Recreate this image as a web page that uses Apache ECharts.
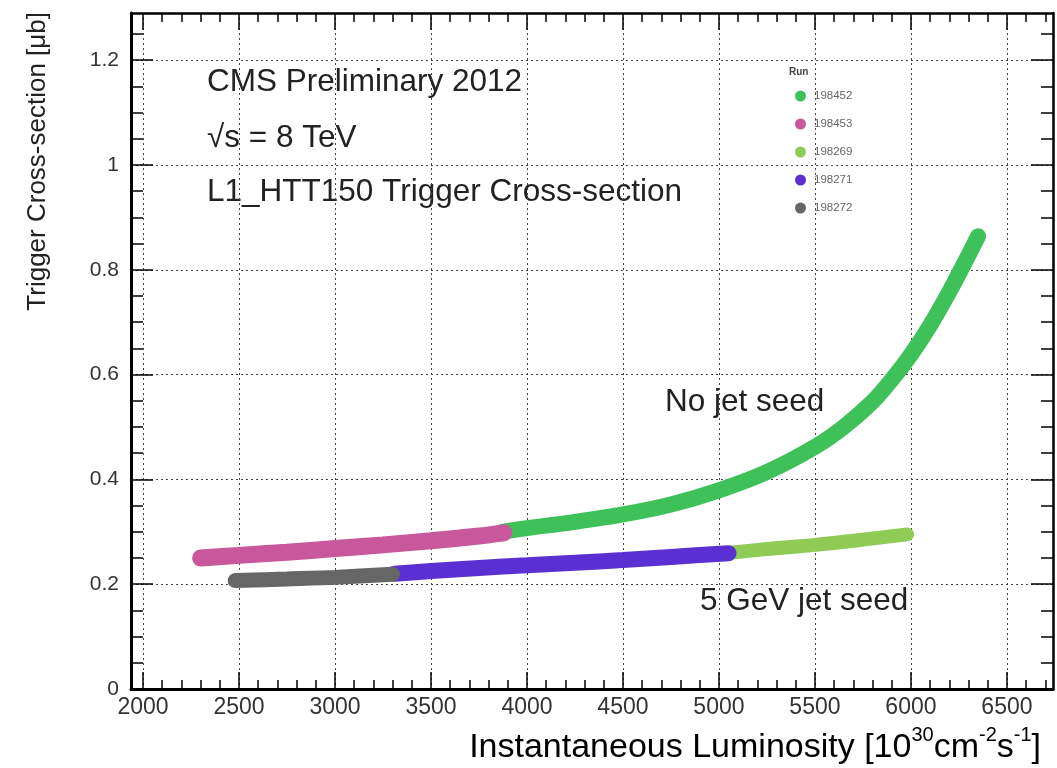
<!DOCTYPE html>
<html>
<head>
<meta charset="utf-8">
<script src="https://cdn.jsdelivr.net/npm/echarts@6/dist/echarts.min.js"></script>
<style>
html,body{margin:0;padding:0;background:#fff;}
#chart{width:1057px;height:768px;}
</style>
</head>
<body>
<div id="chart"></div>
<script>
// ---- data ----
const runs = ['198452', '198453', '198269', '198271', '198272'];
const runColors = ['#3fc15a', '#c8589b', '#8fcb55', '#5a30d2', '#666666'];

// luminosity [1e30 cm^-2 s^-1], cross-section [ub]
const lumi198452 = [3870, 4000, 4250, 4500, 4750, 5000, 5250, 5500, 5650, 5800, 5900, 6000, 6100, 6200, 6300, 6350];
const xsec198452 = [0.300, 0.307, 0.319, 0.333, 0.352, 0.379, 0.414, 0.462, 0.500, 0.548, 0.590, 0.638, 0.694, 0.758, 0.828, 0.864];

const lumi198453 = [2300, 2500, 2750, 3000, 3250, 3500, 3750, 3880];
const xsec198453 = [0.250, 0.255, 0.261, 0.268, 0.275, 0.283, 0.292, 0.298];

const lumi198269 = [5060, 5250, 5500, 5750, 5980];
const xsec198269 = [0.260, 0.267, 0.275, 0.285, 0.295];

const lumi198271 = [3310, 3500, 3750, 4000, 4250, 4500, 4750, 5050];
const xsec198271 = [0.220, 0.225, 0.231, 0.236, 0.241, 0.246, 0.252, 0.259];

const lumi198272 = [2480, 2750, 3000, 3300];
const xsec198272 = [0.207, 0.210, 0.213, 0.219];

// tick labels
const xMajorTicks = [2000, 2500, 3000, 3500, 4000, 4500, 5000, 5500, 6000, 6500];
const yMajorTicks = [0, 0.2, 0.4, 0.6, 0.8, 1, 1.2];
const xMinorTicks = [];
for (let v = 2000; v <= 6700; v += 100) xMinorTicks.push(v);
const yMinorTicks = [];
for (let i = 0; i <= 25; i++) yMinorTicks.push(Math.round(i * 5) / 100);

const lumis = [lumi198452, lumi198453, lumi198269, lumi198271, lumi198272];
const xsecs = [xsec198452, xsec198453, xsec198269, xsec198271, xsec198272];
const widths = [16, 17, 14, 16, 15];

const FONT = "'Liberation Sans', Arial, Helvetica, sans-serif";
const X_MIN = 1937.5, X_MAX = 6740, Y_MIN = 0, Y_MAX = 1.29;

function xAxisDef(position, ticks, len, isMain, lineWidth) {
  return {
    type: 'value', position: position, min: X_MIN, max: X_MAX,
    axisLine: { show: lineWidth > 0, onZero: false, lineStyle: { color: '#000', width: lineWidth } },
    axisTick: { show: true, inside: true, length: len, customValues: ticks, lineStyle: { color: '#000', width: 1.5 } },
    axisLabel: isMain ? { show: true, customValues: ticks, fontFamily: FONT, fontSize: 23, color: '#333', margin: 7,
                          formatter: v => String(v) } : { show: false },
    splitLine: isMain ? { show: true, lineStyle: { color: '#444', width: 1, type: [2, 3] } } : { show: false }
  };
}
function yAxisDef(position, ticks, len, isMain, lineWidth) {
  return {
    type: 'value', position: position, min: Y_MIN, max: Y_MAX,
    axisLine: { show: lineWidth > 0, onZero: false, lineStyle: { color: '#000', width: lineWidth } },
    axisTick: { show: true, inside: true, length: len, customValues: ticks, lineStyle: { color: '#000', width: 1.5 } },
    axisLabel: isMain ? { show: true, customValues: ticks, fontFamily: FONT, fontSize: 21, color: '#333', margin: 12,
                          formatter: v => String(v) } : { show: false },
    splitLine: isMain ? { show: true, lineStyle: { color: '#444', width: 1, type: [2, 3] } } : { show: false }
  };
}

const series = runs.map((r, k) => ({
  name: r,
  type: 'line',
  xAxisIndex: 0, yAxisIndex: 0,
  data: lumis[k].map((x, i) => [x, xsecs[k][i]]),
  smooth: 0.3,
  symbol: 'circle', showSymbol: false, symbolSize: 10,
  itemStyle: { color: runColors[k] },
  lineStyle: { color: runColors[k], width: widths[k], cap: 'round' },
  z: 5
}));

const chart = echarts.init(document.getElementById('chart'), null, { renderer: 'canvas' });
chart.setOption({
  animation: false,
  backgroundColor: '#fff',
  grid: { left: 131, right: 4, top: 13, bottom: 79, containLabel: false },
  xAxis: [
    xAxisDef('bottom', xMajorTicks, 17, true, 3),
    xAxisDef('bottom', xMinorTicks, 9, false, 0),
    xAxisDef('top', xMajorTicks, 17, false, 2.5),
    xAxisDef('top', xMinorTicks, 9, false, 0)
  ],
  yAxis: [
    yAxisDef('left', yMajorTicks, 22, true, 3),
    yAxisDef('left', yMinorTicks, 12, false, 0),
    yAxisDef('right', yMajorTicks, 22, false, 2.5),
    yAxisDef('right', yMinorTicks, 12, false, 0)
  ],
  legend: {
    orient: 'vertical', left: 790, top: 85,
    itemWidth: 11, itemHeight: 11, itemGap: 16, icon: 'circle',
    textStyle: { fontFamily: FONT, fontSize: 11.5, color: '#666', padding: [0, 0, 0, 3] },
    data: runs
  },
  graphic: [
    { type: 'text', left: 789, top: 67, style: { text: 'Run', font: 'bold 10px ' + FONT, fill: '#444' } },
    { type: 'text', x: 207, y: 82, style: { text: 'CMS Preliminary 2012', font: '31.5px ' + FONT, fill: '#222', verticalAlign: 'middle' } },
    { type: 'text', x: 207, y: 138, style: { text: '√s = 8 TeV', font: '31.5px ' + FONT, fill: '#222', verticalAlign: 'middle' } },
    { type: 'text', x: 207, y: 192, style: { text: 'L1_HTT150 Trigger Cross-section', font: '31.5px ' + FONT, fill: '#222', verticalAlign: 'middle' } },
    { type: 'text', x: 665, y: 402, style: { text: 'No jet seed', font: '31.5px ' + FONT, fill: '#222', verticalAlign: 'middle' } },
    { type: 'text', x: 700, y: 601, style: { text: '5 GeV jet seed', font: '31.5px ' + FONT, fill: '#222', verticalAlign: 'middle' } },
    { type: 'text', x: 38, y: 12, rotation: Math.PI / 2,
      style: { text: 'Trigger Cross-section [μb]', font: '26px ' + FONT, fill: '#222', align: 'right', verticalAlign: 'middle' } },
    { type: 'text', x: 1041, y: 745,
      style: {
        text: '{a|Instantaneous Luminosity [10}{s|30}{a|cm}{s|-2}{a|s}{s|-1}{a|]}',
        align: 'right', verticalAlign: 'middle',
        rich: {
          a: { fontFamily: FONT, fontSize: 34, color: '#222', lineHeight: 40, verticalAlign: 'bottom' },
          s: { fontFamily: FONT, fontSize: 20, color: '#222', lineHeight: 40, verticalAlign: 'top', padding: [0, 0, 20, 0] }
        }
      } }
  ],
  series: series
});
</script>
</body>
</html>
